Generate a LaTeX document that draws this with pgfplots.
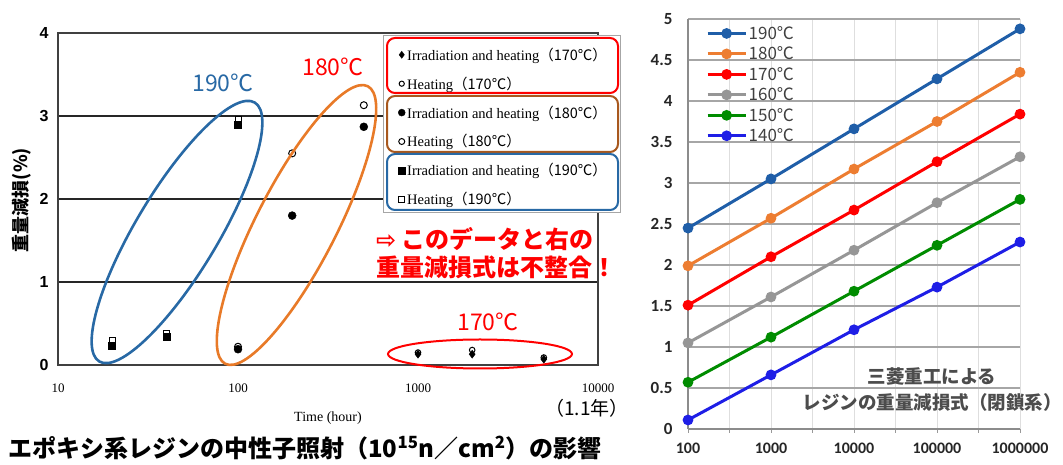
\documentclass[border=0pt]{standalone}
\usepackage{pgfplots}
\pgfplotsset{compat=1.18}
\usepackage{fontspec}
\setmainfont{Liberation Serif}
\newfontfamily\cjk{Noto Sans CJK JP}
\newfontfamily\lsans{Liberation Sans}
\newfontfamily\carl{Carlito}
\newfontfamily\dejavu{DejaVu Sans}
\definecolor{ellblue}{RGB}{40,105,165}
\definecolor{ellorange}{RGB}{232,122,40}
\definecolor{legbrown}{RGB}{168,88,30}
\definecolor{c190}{RGB}{31,94,168}
\definecolor{c180}{RGB}{237,125,49}
\definecolor{c170}{RGB}{255,0,0}
\definecolor{c160}{RGB}{150,150,150}
\definecolor{c150}{RGB}{0,140,0}
\definecolor{c140}{RGB}{30,30,230}
\begin{document}
\begin{tikzpicture}[x=1pt,y=1pt]
\path[use as bounding box] (0,0) rectangle (1063,465);

% ---------------- left chart ----------------
\begin{axis}[
  at={(58pt,100pt)}, anchor=south west, scale only axis,
  width=540pt, height=332pt,
  xmode=log, xmin=10, xmax=10000, ymin=0, ymax=4,
  xtick={10,100,1000,10000}, xticklabels={10,100,1000,10000},
  minor xtick={},
  ytick={0,1,2,3,4}, yticklabels={0,1,2,3,4},
  ymajorgrids,
  major grid style={draw=black!85, line width=1.6pt},
  axis line style={draw=black!75, line width=1.4pt},
  major tick length=0pt, minor tick length=0pt,
  xticklabel style={font=\fontsize{13}{15}\selectfont, yshift=-15pt},
  yticklabel style={font=\lsans\bfseries\fontsize{16}{18}\selectfont, xshift=-6pt},
  legend style={at={(rel axis cs:0.626,0.968)}, anchor=north west, fill=none, draw=none,
    font=\fontsize{14.5}{16}\selectfont, row sep=11pt, inner sep=2pt},
  legend cell align=left,
  clip=false,
]
\fill[white] (rel axis cs:0.6019,0.4578) rectangle (rel axis cs:1.0407,0.991);
\addlegendimage{only marks, mark=diamond*, mark size=3.5pt, black}
\addlegendentry{Irradiation and heating{\cjk （170℃）}}
\addlegendimage{only marks, mark=*, mark size=2.6pt, black, mark options={fill=white, line width=1pt}}
\addlegendentry{Heating{\cjk （170℃）}}
\addlegendimage{only marks, mark=*, mark size=3.5pt, black}
\addlegendentry{Irradiation and heating{\cjk （180℃）}}
\addlegendimage{only marks, mark=*, mark size=3pt, black, mark options={fill=white, line width=1pt}}
\addlegendentry{Heating{\cjk （180℃）}}
\addlegendimage{only marks, mark=square*, mark size=3.5pt, black}
\addlegendentry{Irradiation and heating{\cjk （190℃）}}
\addlegendimage{only marks, mark=square*, mark size=3pt, black, mark options={fill=white, line width=1pt}}
\addlegendentry{Heating{\cjk （190℃）}}

% heating 190 (open squares)
\addplot[forget plot, only marks, mark=square*, mark size=3pt, black, mark options={fill=white, line width=1pt}]
  coordinates {(20,0.29) (40,0.38) (100,2.96)};
% irradiation 190 (filled squares)
\addplot[forget plot, only marks, mark=square*, mark size=3.5pt, black]
  coordinates {(20,0.23) (40,0.34) (100,2.89)};
% heating 180 (open circles)
\addplot[forget plot, only marks, mark=*, mark size=3.5pt, black, mark options={fill=white, line width=1pt}]
  coordinates {(100,0.22) (200,2.55) (500,3.13)};
% irradiation 180 (filled circles)
\addplot[forget plot, only marks, mark=*, mark size=4pt, black]
  coordinates {(100,0.19) (200,1.80) (500,2.87)};
% heating 170 (open circles)
\addplot[forget plot, only marks, mark=*, mark size=2.8pt, black, mark options={fill=white, line width=1pt}]
  coordinates {(1000,0.15) (2000,0.18) (5000,0.09)};
% irradiation 170 (filled diamonds)
\addplot[forget plot, only marks, mark=diamond*, mark size=4pt, black]
  coordinates {(1000,0.13) (2000,0.13) (5000,0.07)};
\end{axis}

% legend frames
\draw[gray!70, line width=1pt] (383,429) rectangle (620,252);
\draw[red, line width=2pt, rounded corners=8pt] (387,427) rectangle (618,372);
\draw[legbrown, line width=2pt, rounded corners=8pt] (387,369) rectangle (618,313);
\draw[ellblue, line width=2pt, rounded corners=8pt] (387,311) rectangle (618,255);

% ellipses
\draw[ellblue, line width=2.6pt, rotate around={59:(177,233)}] (177,233) ellipse [x radius=151, y radius=41];
\draw[ellorange, line width=2.6pt, rotate around={62.8:(296.5,240)}] (296.5,240) ellipse [x radius=156, y radius=40];
\draw[red, line width=2pt] (480,111) ellipse [x radius=92, y radius=14.5];

\node[text=ellblue, font=\cjk\fontsize{23}{26}\selectfont] at (223,382) {190℃};
\node[text=red, font=\cjk\fontsize{23}{26}\selectfont] at (333,398) {180℃};
\node[text=red, font=\cjk\fontsize{23}{26}\selectfont] at (488,143) {170℃};

\node[anchor=west, text=red, font=\cjk\bfseries\fontsize{24}{26}\selectfont, inner sep=0pt] at (376,226) {{\dejavu ⇨} このデータと右の};
\node[anchor=west, text=red, font=\cjk\bfseries\fontsize{24}{26}\selectfont, inner sep=0pt] at (376,198) {重量減損式は不整合！};

\node[font=\fontsize{14}{16}\selectfont] at (328,47) {Time (hour)};
\node[font=\cjk\fontsize{19}{22}\selectfont] at (587,57) {（1.1年）};
\node[rotate=90, font=\cjk\bfseries\fontsize{18}{20}\selectfont] at (22,265) {重量減損(\%)};
\node[font=\cjk\bfseries\fontsize{24}{28}\selectfont] at (305,17) {エポキシ系レジンの中性子照射（10\textsuperscript{15}n／cm\textsuperscript{2}）の影響};

% ---------------- right chart ----------------
\begin{axis}[
  at={(688pt,36pt)}, anchor=south west, scale only axis,
  width=332pt, height=410pt,
  xmode=log, xmin=100, xmax=1000000, ymin=0, ymax=5,
  xtick={100,1000,10000,100000,1000000},
  xticklabels={100,1000,10000,100000,1000000},
  minor xtick={316.23,3162.3,31623,316228},
  ytick={0,0.5,1,1.5,2,2.5,3,3.5,4,4.5,5},
  yticklabels={0,0.5,1,1.5,2,2.5,3,3.5,4,4.5,5},
  ymajorgrids, xmajorgrids, xminorgrids,
  every axis y grid/.style={draw=black!35, line width=1.2pt},
  every axis x grid/.style={draw=black!13, line width=0.9pt},
  minor grid style={draw=black!13, line width=0.9pt},
  axis x line*=bottom, axis y line*=left,
  axis line style={draw=black!45, line width=1.2pt, -},
  xtick style={draw=black!40, line width=0.8pt},
  ytick style={draw=none},
  major tick length=4pt, minor tick length=4pt, tick align=outside,
  xticklabel style={font=\carl\bfseries\fontsize{16}{18}\selectfont, text=black!85, yshift=-6pt},
  yticklabel style={font=\carl\bfseries\fontsize{17}{19}\selectfont, text=black!85, xshift=-8pt},
  legend style={at={(rel axis cs:0.051,0.989)}, anchor=north west, fill=none, draw=none,
    font=\cjk\fontsize{17}{19}\selectfont, text=black!75, row sep=3pt, inner sep=1pt,
    nodes={inner sep=1.5pt}},
  legend cell align=left,
  legend image code/.code={\draw[mark repeat=2,mark phase=2] plot coordinates {(0pt,0pt) (19pt,0pt) (38pt,0pt)};},
  every axis plot/.append style={line width=3pt, mark=*, mark size=3.8pt},
]
\addplot[c190] coordinates {(100,2.45) (1000,3.05) (10000,3.66) (100000,4.27) (1000000,4.88)};
\addlegendentry{190℃}
\addplot[c180] coordinates {(100,1.99) (1000,2.57) (10000,3.17) (100000,3.75) (1000000,4.35)};
\addlegendentry{180℃}
\addplot[c170] coordinates {(100,1.51) (1000,2.10) (10000,2.67) (100000,3.26) (1000000,3.84)};
\addlegendentry{170℃}
\addplot[c160] coordinates {(100,1.05) (1000,1.61) (10000,2.18) (100000,2.76) (1000000,3.32)};
\addlegendentry{160℃}
\addplot[c150] coordinates {(100,0.57) (1000,1.12) (10000,1.68) (100000,2.24) (1000000,2.80)};
\addlegendentry{150℃}
\addplot[c140] coordinates {(100,0.11) (1000,0.66) (10000,1.21) (100000,1.73) (1000000,2.28)};
\addlegendentry{140℃}
\end{axis}

\node[align=center, text=black!70, font=\cjk\bfseries\fontsize{18.5}{26}\selectfont] at (932,75) {三菱重工による\\レジンの重量減損式（閉鎖系）};
\end{tikzpicture}
\end{document}
